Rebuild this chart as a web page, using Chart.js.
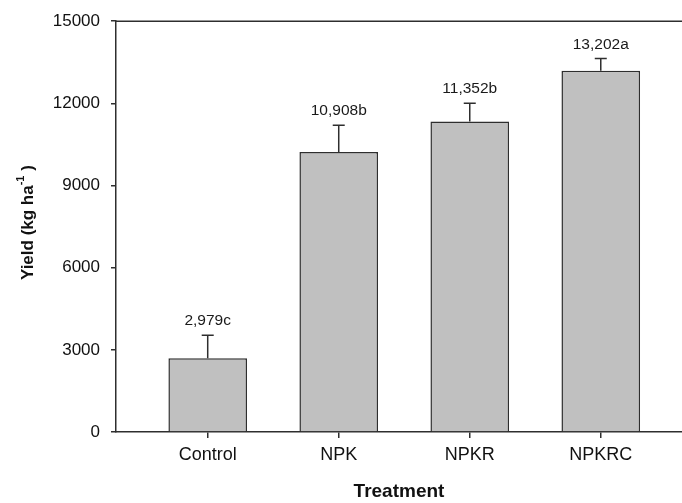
<!DOCTYPE html>
<html>
<head>
<meta charset="utf-8">
<script src="https://cdn.jsdelivr.net/npm/chart.js@4.4.1/dist/chart.umd.min.js"></script>
<style>
  html, body { margin: 0; padding: 0; background: #ffffff; }
  #wrap { width: 682px; height: 503px; }
</style>
</head>
<body>
<div id="wrap"><canvas id="myChart" width="682" height="503"></canvas></div>
<script>
// data
var treatments = ["Control", "NPK", "NPKR", "NPKRC"];
var yieldMean = [2691, 10224, 11334, 13190];
var yieldErr = [842, 977, 673, 445];
var barLabels = ["2,979c", "10,908b", "11,352b", "13,202a"];
var yTicks = [0, 3000, 6000, 9000, 12000, 15000];

var fontFam = "'Liberation Sans', Arial, sans-serif";
var lineCol = '#2e2e2e';

// error bars, value labels, top frame line and y title
var extras = {
    id: 'extras',
    afterDatasetsDraw(chart) {
        var ctx = chart.ctx;
        var yScale = chart.scales.y;
        var meta = chart.getDatasetMeta(0);
        var area = chart.chartArea;

        ctx.save();
        ctx.strokeStyle = lineCol;
        ctx.lineWidth = 1.5;

        // top line of the frame
        ctx.beginPath();
        ctx.moveTo(area.left, area.top);
        ctx.lineTo(area.right, area.top);
        ctx.stroke();

        for (var i = 0; i < meta.data.length; i++) {
            var bar = meta.data[i];
            var yTop = yScale.getPixelForValue(yieldMean[i] + yieldErr[i]);
            ctx.beginPath();
            ctx.moveTo(bar.x, bar.y);
            ctx.lineTo(bar.x, yTop);
            ctx.moveTo(bar.x - 6, yTop);
            ctx.lineTo(bar.x + 6, yTop);
            ctx.stroke();

            ctx.fillStyle = '#1a1a1a';
            ctx.font = '15.5px ' + fontFam;
            ctx.textAlign = 'center';
            ctx.textBaseline = 'alphabetic';
            ctx.fillText(barLabels[i], bar.x, yTop - 10);
        }

        // y axis title with superscript
        var cy = (area.top + area.bottom) / 2 - 4;
        ctx.translate(28, cy);
        ctx.rotate(-Math.PI / 2);
        ctx.fillStyle = '#111111';
        ctx.textAlign = 'left';
        ctx.textBaseline = 'middle';
        var mainFont = 'bold 17px ' + fontFam;
        var supFont = 'bold 11px ' + fontFam;
        var p1 = 'Yield (kg ha', p2 = '-1', p3 = ' )';
        ctx.font = mainFont;
        var w1 = ctx.measureText(p1).width, w3 = ctx.measureText(p3).width;
        ctx.font = supFont;
        var w2 = ctx.measureText(p2).width;
        var x0 = -(w1 + w2 + w3) / 2;
        ctx.font = mainFont;
        ctx.fillText(p1, x0, 0);
        ctx.font = supFont;
        ctx.fillText(p2, x0 + w1, -7);
        ctx.font = mainFont;
        ctx.fillText(p3, x0 + w1 + w2, 0);
        ctx.restore();
    }
};

var ctx = document.getElementById('myChart').getContext('2d');
var myChart = new Chart(ctx, {
    type: 'bar',
    data: {
        datasets: [{
            label: 'Yield',
            data: yieldMean.map(function (v, i) { return { x: i + 1, y: v }; }),
            backgroundColor: '#c0c0c0',
            borderColor: lineCol,
            borderWidth: 1.5,
            categoryPercentage: 1,
            barPercentage: 0.6
        }]
    },
    options: {
        responsive: false,
        animation: false,
        layout: { padding: { top: 17, right: 0, left: 0, bottom: 0 } },
        plugins: {
            legend: { display: false },
            tooltip: { enabled: false }
        },
        scales: {
            x: {
                type: 'linear',
                min: 0.3,
                max: 4.62,
                offset: false,
                afterBuildTicks: function (scale) {
                    scale.ticks = treatments.map(function (t, i) { return { value: i + 1 }; });
                },
                afterFit: function (scale) { scale.height = 71; },
                ticks: {
                    autoSkip: false,
                    maxRotation: 0,
                    padding: 6,
                    color: '#111111',
                    font: { family: fontFam, size: 18 },
                    callback: function (v) { return treatments[v - 1]; }
                },
                grid: { display: true, drawOnChartArea: false, offset: false, tickLength: 6, color: lineCol, lineWidth: 1.5 },
                border: { display: true, color: lineCol, width: 1.5 },
                title: {
                    display: true,
                    text: 'Treatment',
                    color: '#111111',
                    font: { family: fontFam, size: 19, weight: 'bold' },
                    padding: { top: 0, bottom: 0 }
                }
            },
            y: {
                min: 0,
                max: 15000,
                afterBuildTicks: function (scale) {
                    scale.ticks = yTicks.map(function (v) { return { value: v }; });
                },
                afterFit: function (scale) { scale.width = 116; },
                ticks: {
                    padding: 11,
                    color: '#111111',
                    font: { family: fontFam, size: 17 },
                    callback: function (v) { return String(v); }
                },
                grid: { display: true, drawOnChartArea: false, tickLength: 5, color: lineCol, lineWidth: 1.5 },
                border: { display: true, color: lineCol, width: 1.5 }
            }
        }
    },
    plugins: [extras]
});
</script>
</body>
</html>
